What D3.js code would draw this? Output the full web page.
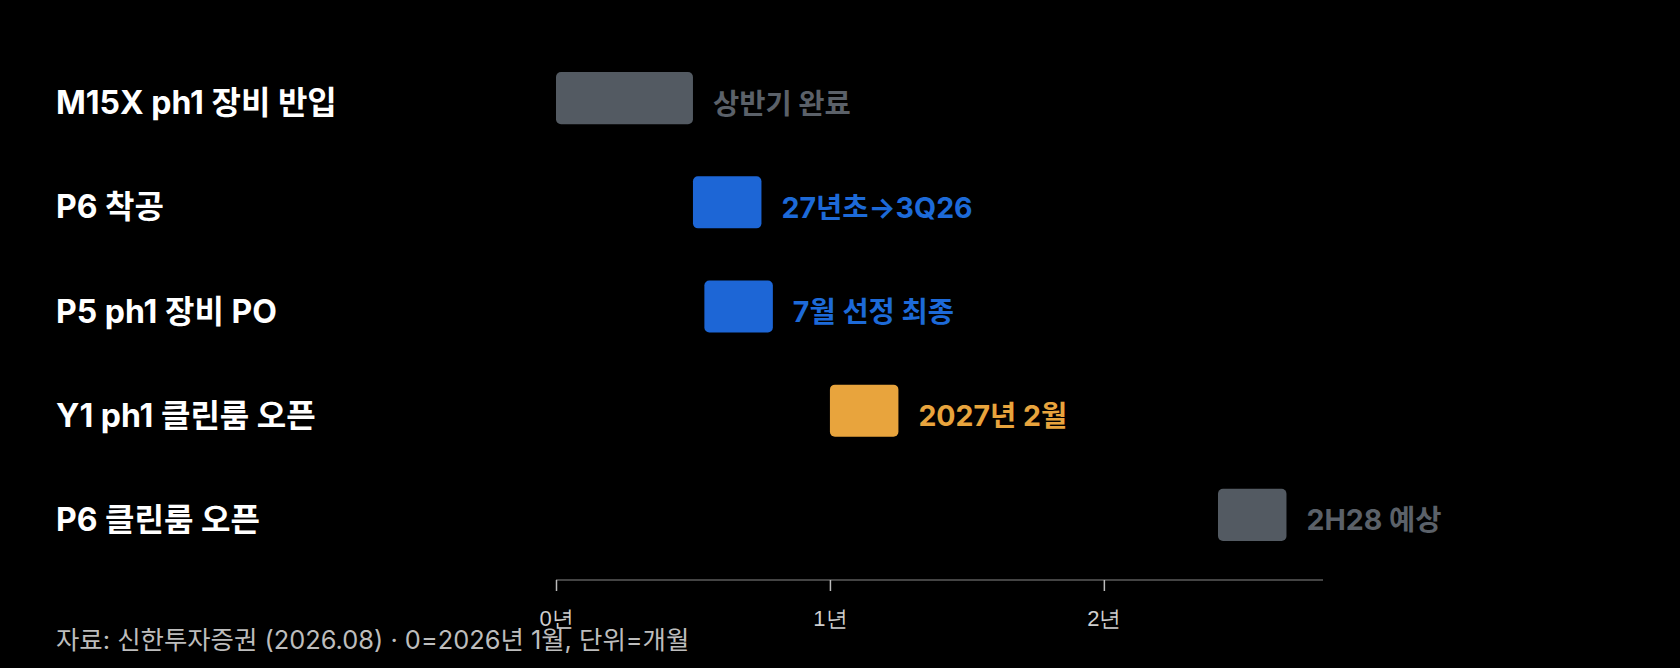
<!DOCTYPE html>
<html>
<head>
<meta charset="utf-8">
<script src="https://cdn.jsdelivr.net/npm/d3@7"></script>
<style>
  html, body { margin: 0; padding: 0; background: #000; }
  svg { display: block; font-family: Inter, "Noto Sans CJK KR", "Noto Sans", sans-serif; }
  .row-label { fill: #fff; font-weight: 700; font-size: 32px; }
  .bar-label { font-weight: 700; font-size: 28.5px; }
  .tick-label { fill: #cfcfcf; font-size: 22px; }
  .footnote { fill: #bdbdbd; font-size: 25.4px; }
</style>
</head>
<body>
<script>
// 0 = 2026년 1월, 단위 = 개월
var milestones = ["M15X ph1 장비 반입", "P6 착공", "P5 ph1 장비 PO", "Y1 ph1 클린룸 오픈", "P6 클린룸 오픈"];
var startMonth = [0, 6, 6.5, 12, 29];
var endMonth = [6, 9, 9.5, 15, 32];
var notes = ["상반기 완료", "27년초→3Q26", "7월 선정 최종", "2027년 2월", "2H28 예상"];
var phase = ["done", "moved", "moved", "key", "plan"];
var yearTicks = [0, 12, 24];
var yearTickLabels = ["0년", "1년", "2년"];

var barColor = { done: "#535a62", moved: "#1d66d6", key: "#e8a43d", plan: "#535a62" };
var noteColor = { done: "#5b6169", moved: "#1d6ad8", key: "#e8a43d", plan: "#5b6169" };

var width = 1680, height = 668;

var svg = d3.select("body")
	.append("svg")
	.attr("width", width)
	.attr("height", height);

var x = d3.scaleLinear()
	.domain([0, d3.max(endMonth) * 1.05])
	.range([556, 1323]);

var y = d3.scaleBand()
	.domain(milestones)
	.range([46, 567])
	.paddingInner(0.5)
	.paddingOuter(0.25);

var rows = milestones.map(function (m, i) {
	return { name: m, s: startMonth[i], e: endMonth[i], note: notes[i], ph: phase[i] };
});

// row labels
svg.selectAll(".row-label")
	.data(rows)
	.enter().append("text")
	.attr("class", "row-label")
	.attr("x", 56)
	.attr("y", function (d) { return y(d.name) + y.bandwidth() / 2; })
	.attr("dy", 4.5)
	.attr("dominant-baseline", "central")
	.text(function (d) { return d.name; });

// bars
svg.selectAll(".bar")
	.data(rows)
	.enter().append("rect")
	.attr("class", "bar")
	.attr("x", function (d) { return x(d.s); })
	.attr("y", function (d) { return y(d.name); })
	.attr("width", function (d) { return x(d.e) - x(d.s); })
	.attr("height", y.bandwidth())
	.attr("rx", 5).attr("ry", 5)
	.style("fill", function (d) { return barColor[d.ph]; });

// notes next to bars
svg.selectAll(".bar-label")
	.data(rows)
	.enter().append("text")
	.attr("class", "bar-label")
	.attr("x", function (d) { return x(d.e) + 20; })
	.attr("y", function (d) { return y(d.name) + y.bandwidth() / 2; })
	.attr("dy", 5)
	.attr("dominant-baseline", "central")
	.style("fill", function (d) { return noteColor[d.ph]; })
	.text(function (d) { return d.note; });

// axis
var axis = svg.append("g")
	.attr("transform", "translate(0,580)")
	.call(d3.axisBottom(x)
		.tickValues(yearTicks)
		.tickSize(11)
		.tickFormat(function (d, i) { return yearTickLabels[i]; }));
axis.select(".domain").attr("stroke", "#444").attr("stroke-width", 2).attr("d", "M" + x.range()[0] + ",0H" + x.range()[1]);
axis.selectAll(".tick line").attr("stroke", "#bbb").attr("stroke-width", 1.5);
axis.selectAll(".tick text")
	.attr("class", "tick-label")
	.attr("font-family", null).attr("font-size", null).attr("fill", null)
	.attr("y", 38)
	.attr("dy", null)
	.attr("dominant-baseline", "central");

svg.append("text")
	.attr("class", "footnote")
	.attr("x", 56)
	.attr("y", 639)
	.attr("dominant-baseline", "central")
	.text("자료: 신한투자증권 (2026.08) · 0=2026년 1월, 단위=개월");
</script>
</body>
</html>
